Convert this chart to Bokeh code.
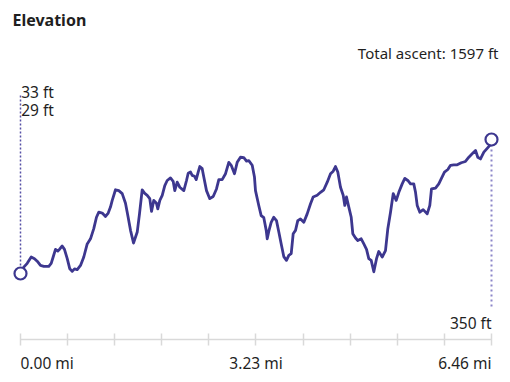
from bokeh.plotting import figure
from bokeh.models import Range1d, FixedTicker, Label, LinearAxis, CustomJSTickFormatter
from bokeh.embed import file_html
from bokeh.resources import INLINE

# ---------------- data ----------------
distance_mi = [
    0.000, 0.045, 0.092, 0.147, 0.192, 0.229, 0.274, 0.320, 0.388, 0.421,
    0.448, 0.480, 0.512, 0.539, 0.572, 0.603, 0.641, 0.676, 0.709, 0.741,
    0.778, 0.823, 0.868, 0.915, 0.960, 1.005, 1.042, 1.074, 1.121, 1.166,
    1.203, 1.234, 1.258, 1.303, 1.348, 1.395, 1.440, 1.472, 1.509, 1.550,
    1.601, 1.632, 1.669, 1.701, 1.738, 1.773, 1.797, 1.828, 1.865, 1.883,
    1.911, 1.944, 1.979, 2.012, 2.057, 2.094, 2.116, 2.149, 2.185, 2.240,
    2.277, 2.300, 2.332, 2.355, 2.387, 2.410, 2.437, 2.459, 2.492, 2.514,
    2.551, 2.596, 2.643, 2.688, 2.720, 2.766, 2.812, 2.857, 2.890, 2.935,
    2.972, 3.017, 3.063, 3.100, 3.131, 3.178, 3.209, 3.223, 3.268, 3.301,
    3.337, 3.370, 3.384, 3.406, 3.438, 3.474, 3.511, 3.543, 3.580, 3.611,
    3.648, 3.680, 3.713, 3.740, 3.772, 3.803, 3.840, 3.886, 3.932, 3.978,
    4.014, 4.069, 4.115, 4.160, 4.207, 4.252, 4.289, 4.320, 4.352, 4.389,
    4.426, 4.448, 4.471, 4.503, 4.536, 4.558, 4.595, 4.626, 4.673, 4.709,
    4.746, 4.777, 4.810, 4.846, 4.883, 4.914, 4.961, 5.006, 5.038, 5.075,
    5.112, 5.153, 5.189, 5.235, 5.271, 5.312, 5.349, 5.394, 5.418, 5.441,
    5.477, 5.523, 5.578, 5.614, 5.637, 5.692, 5.737, 5.770, 5.815, 5.861,
    5.898, 5.943, 5.990, 6.045, 6.103, 6.149, 6.195, 6.241, 6.272, 6.309,
    6.355, 6.401, 6.446, 6.460,
]
elevation_ft = [
    33, 48, 57, 72, 68, 62, 52, 50, 50, 57,
    72, 90, 86, 91, 98, 90, 68, 44, 38, 44,
    42, 52, 72, 103, 115, 139, 166, 178, 176, 168,
    176, 190, 206, 231, 229, 222, 199, 170, 135, 105,
    131, 174, 231, 223, 218, 210, 180, 206, 199, 186,
    206, 218, 241, 253, 259, 251, 229, 249, 237, 229,
    253, 270, 273, 265, 263, 255, 273, 286, 281, 261,
    229, 210, 215, 233, 255, 255, 269, 296, 289, 269,
    296, 308, 307, 299, 300, 289, 261, 229, 194, 170,
    165, 135, 115, 133, 154, 166, 158, 131, 99, 73,
    64, 76, 80, 127, 135, 158, 162, 154, 174, 198,
    214, 218, 225, 231, 249, 269, 275, 286, 273, 237,
    218, 194, 214, 190, 166, 127, 117, 111, 115, 103,
    90, 68, 64, 37, 68, 85, 72, 87, 139, 178,
    222, 206, 225, 245, 258, 253, 245, 245, 225, 194,
    178, 184, 174, 194, 233, 235, 245, 257, 273, 279,
    289, 290, 290, 295, 298, 308, 316, 324, 308, 304,
    320, 329, 338, 350,
]
tick_mi = [0.0, 0.646, 1.292, 1.938, 2.584, 3.23, 3.876, 4.522, 5.168, 5.814, 6.46]
label_tick_mi = [0.0, 3.23, 6.46]
tick_labels = ["0.00 mi", "3.23 mi", "6.46 mi"]
title_text = "Elevation"
ascent_text = "Total ascent: 1597 ft"
start_labels = ["33 ft", "29 ft"]
end_label = "350 ft"

# ---------------- layout ----------------
W, H = 510, 382
X_START, X_END = -0.2743, 6.7206
Y_START, Y_END = -224.9, 678.8

LINE_C = "#3d378f"
TEXT_C = "#1f1f1f"
FONT = "Noto Sans"


def xd(cx):
    return X_START + cx * (X_END - X_START) / W


def yd(cy):
    return Y_END - cy * (Y_END - Y_START) / H


p = figure(width=W, height=H,
           x_range=Range1d(X_START, X_END), y_range=Range1d(Y_START, Y_END),
           output_backend="svg", toolbar_location=None,
           x_axis_location=None, y_axis_location=None,
           min_border=0)
p.outline_line_color = None
p.grid.visible = False
p.background_fill_color = "white"
p.border_fill_color = "white"

ax = LinearAxis(fixed_location=yd(339))
ax.ticker = FixedTicker(ticks=tick_mi)
ax.bounds = (tick_mi[0], tick_mi[-1])
ax.formatter = CustomJSTickFormatter(code="return ''")
ax.axis_line_color = "#d9d9d9"
ax.axis_line_width = 1.5
ax.major_tick_line_color = "#d9d9d9"
ax.major_tick_line_width = 1.5
ax.major_tick_in = 6
ax.major_tick_out = 6
ax.minor_tick_line_color = None
ax.major_label_standoff = 0
p.add_layout(ax, "below")

# dotted guide lines
p.segment(x0=[distance_mi[0]], y0=[elevation_ft[0]], x1=[distance_mi[0]], y1=[yd(93)],
          line_color="#5650a6", line_width=1.5, line_dash="2 2")
p.segment(x0=[distance_mi[-1]], y0=[elevation_ft[-1]], x1=[distance_mi[-1]], y1=[yd(308)],
          line_color="#8b85c8", line_width=2, line_dash="2 3")

# profile
p.line(distance_mi, elevation_ft, line_color=LINE_C, line_width=2.8, line_join="round")
p.scatter([distance_mi[0], distance_mi[-1]], [elevation_ft[0], elevation_ft[-1]],
          size=12, fill_color="white", line_color=LINE_C, line_width=2.2)


def add_label(x, y, text, size, align="left", bold=False):
    p.add_layout(Label(x=x, y=y, text=text, text_font=FONT, text_font_size=size,
                       text_color=TEXT_C, text_align=align, text_baseline="middle",
                       text_font_style="bold" if bold else "normal"))


add_label(xd(12), yd(19), title_text, "16px", bold=True)
add_label(xd(498), yd(52), ascent_text, "15px", align="right")
add_label(distance_mi[0] + 0.01, yd(91), start_labels[0], "15.5px")
add_label(distance_mi[0] + 0.01, yd(109), start_labels[1], "15.5px")
add_label(distance_mi[-1], yd(322), end_label, "15.5px", align="right")
for t, lab, al in zip(label_tick_mi, tick_labels, ["left", "center", "right"]):
    add_label(t, yd(362), lab, "15.5px", align=al)

open("out.html", "w").write(file_html(p, INLINE))
